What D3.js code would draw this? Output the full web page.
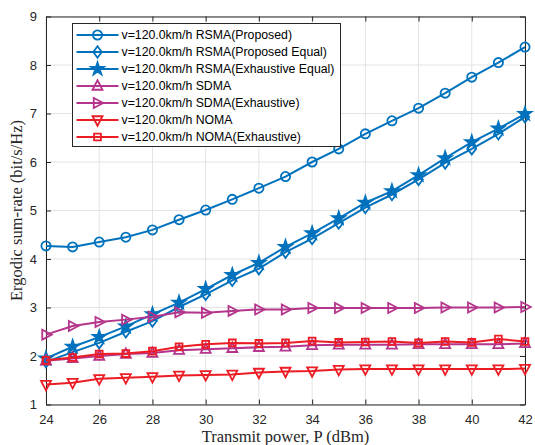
<!DOCTYPE html>
<html>
<head>
<meta charset="utf-8">
<script src="https://cdn.jsdelivr.net/npm/d3@7"></script>
<style>
  body { margin: 0; background: #fff; }
  svg { display: block; }
</style>
</head>
<body>
<svg id="chart"></svg>
<script>
// data
var power = [24,25,26,27,28,29,30,31,32,33,34,35,36,37,38,39,40,41,42];
var rsmaProposed   = [4.27,4.25,4.35,4.45,4.60,4.81,5.01,5.23,5.46,5.70,6.00,6.27,6.58,6.85,7.11,7.42,7.75,8.05,8.37];
var rsmaPropEqual  = [1.88,2.08,2.27,2.50,2.72,3.01,3.27,3.56,3.80,4.14,4.42,4.74,5.06,5.33,5.64,5.98,6.27,6.58,6.93];
var rsmaExhEqual   = [1.95,2.19,2.39,2.61,2.86,3.10,3.38,3.67,3.92,4.25,4.53,4.84,5.16,5.40,5.73,6.08,6.41,6.69,6.99];
var sdma           = [1.90,1.95,2.00,2.04,2.06,2.12,2.14,2.16,2.18,2.19,2.22,2.23,2.23,2.23,2.24,2.24,2.24,2.24,2.26];
var sdmaExh        = [2.44,2.62,2.70,2.75,2.81,2.90,2.89,2.93,2.96,2.96,2.99,2.99,2.99,2.99,2.99,3.00,3.00,3.00,3.01];
var noma           = [1.41,1.45,1.53,1.55,1.57,1.60,1.61,1.62,1.66,1.68,1.69,1.72,1.73,1.73,1.73,1.73,1.73,1.73,1.74];
var nomaExh        = [1.91,1.97,2.04,2.05,2.10,2.19,2.24,2.27,2.26,2.27,2.31,2.28,2.29,2.30,2.27,2.30,2.28,2.35,2.30];

var xTicks = [24,26,28,30,32,34,36,38,40,42];
var yTicks = [1,2,3,4,5,6,7,8,9];

var labels = [
  "v=120.0km/h RSMA(Proposed)",
  "v=120.0km/h RSMA(Proposed Equal)",
  "v=120.0km/h RSMA(Exhaustive Equal)",
  "v=120.0km/h SDMA",
  "v=120.0km/h SDMA(Exhaustive)",
  "v=120.0km/h NOMA",
  "v=120.0km/h NOMA(Exhaustive)"
];
var seriesValues = [rsmaProposed, rsmaPropEqual, rsmaExhEqual, sdma, sdmaExh, noma, nomaExh];
var markers = ["circle","diamond","star","up","right","down","square"];
var colors = ["#0072bd","#0072bd","#0072bd","#b4358b","#b4358b","#ec1c24","#ec1c24"];

var W = 535, H = 445;
var margin = {top: 16.5, right: 10, bottom: 40.5, left: 46};

var svg = d3.select("#chart").attr("width", W).attr("height", H);
var iw = W - margin.left - margin.right;
var ih = H - margin.top - margin.bottom;

var g = svg.append("g").attr("transform", `translate(${margin.left},${margin.top})`);

var x = d3.scaleLinear().domain([24,42]).range([0, iw]);
var y = d3.scaleLinear().domain([1,9]).range([ih, 0]);

// grid
g.append("g").selectAll("line").data(xTicks).enter().append("line")
  .attr("x1", d => x(d)).attr("x2", d => x(d)).attr("y1", 0).attr("y2", ih)
  .attr("stroke", "#e3e3e3").attr("stroke-width", 1);
g.append("g").selectAll("line").data(yTicks).enter().append("line")
  .attr("y1", d => y(d)).attr("y2", d => y(d)).attr("x1", 0).attr("x2", iw)
  .attr("stroke", "#e3e3e3").attr("stroke-width", 1);

// axes
var tickFont = "'Liberation Sans', Arial, sans-serif";
var xAxis = g.append("g").attr("transform", `translate(0,${ih})`)
  .call(d3.axisBottom(x).tickValues(xTicks).tickSizeInner(-5).tickSizeOuter(0).tickPadding(10));
var yAxis = g.append("g")
  .call(d3.axisLeft(y).tickValues(yTicks).tickSizeInner(-5).tickSizeOuter(0).tickPadding(9));
var xTop = g.append("g")
  .call(d3.axisTop(x).tickValues(xTicks).tickSizeInner(-5).tickSizeOuter(0).tickFormat(""));
var yRight = g.append("g").attr("transform", `translate(${iw},0)`)
  .call(d3.axisRight(y).tickValues(yTicks).tickSizeInner(-5).tickSizeOuter(0).tickFormat(""));

[xAxis, yAxis, xTop, yRight].forEach(function(a){
  a.select(".domain").attr("stroke", "#262626").attr("stroke-width", 1);
  a.selectAll(".tick line").attr("stroke", "#262626");
  a.selectAll("text").attr("fill", "#262626").style("font-family", tickFont).style("font-size", "13px");
});

// series
var line = d3.line().x((d, i) => x(power[i])).y(d => y(d));

function markerPath(type, s) {
  if (type === "circle") return d3.symbol().type(d3.symbolCircle).size(Math.PI * s * s)();
  if (type === "square") return `M${-s},${-s}H${s}V${s}H${-s}Z`;
  if (type === "diamond") return `M0,${-s*1.35}L${s},0L0,${s*1.35}L${-s},0Z`;
  if (type === "star") return d3.symbol().type(d3.symbolStar).size(s * s * 1.3)();
  if (type === "up") return `M0,${-s*1.15}L${s},${s*0.75}L${-s},${s*0.75}Z`;
  if (type === "down") return `M0,${s*1.15}L${s},${-s*0.75}L${-s},${-s*0.75}Z`;
  if (type === "right") return `M${s*1.15},0L${-s*0.75},${s}L${-s*0.75},${-s}Z`;
}
var markerSize = {circle: 4.6, square: 3.4, diamond: 4.2, star: 6.2, up: 5, down: 5, right: 5};

var plot = g.append("g");
seriesValues.forEach(function(vals, k){
  var sg = plot.append("g");
  sg.append("path").datum(vals)
    .attr("d", line).attr("fill", "none")
    .attr("stroke", colors[k]).attr("stroke-width", 2);
  sg.selectAll("path.mk").data(vals).enter().append("path")
    .attr("class", "mk")
    .attr("transform", (d, i) => `translate(${x(power[i])},${y(d)})`)
    .attr("d", markerPath(markers[k], markerSize[markers[k]]))
    .attr("fill", markers[k] === "star" ? colors[k] : "none")
    .attr("stroke", colors[k]).attr("stroke-width", 1.8);
});

// axis labels
var serif = "'Liberation Serif', 'Times New Roman', serif";
svg.append("text")
  .attr("x", margin.left + iw / 2).attr("y", 442)
  .attr("text-anchor", "middle")
  .style("font-family", serif).style("font-size", "16.5px").attr("fill", "#262626")
  .text("Transmit power, P (dBm)");
svg.append("text")
  .attr("transform", `translate(22,${margin.top + ih / 2}) rotate(-90)`)
  .attr("text-anchor", "middle")
  .style("font-family", serif).style("font-size", "16.5px").attr("fill", "#262626")
  .text("Ergodic sum-rate (bit/s/Hz)");

// legend
var lg = svg.append("g").attr("transform", "translate(72.5,23.5)");
lg.append("rect").attr("width", 268).attr("height", 123)
  .attr("fill", "#fff").attr("stroke", "#262626").attr("stroke-width", 1);
labels.forEach(function(lab, k){
  var row = lg.append("g").attr("transform", `translate(0,${11.5 + k * 17})`);
  row.append("line").attr("x1", 4).attr("x2", 46).attr("y1", 0).attr("y2", 0)
    .attr("stroke", colors[k]).attr("stroke-width", 2);
  row.append("path").attr("transform", "translate(25,0)")
    .attr("d", markerPath(markers[k], markerSize[markers[k]]))
    .attr("fill", markers[k] === "star" ? colors[k] : "none")
    .attr("stroke", colors[k]).attr("stroke-width", 1.8);
  row.append("text").attr("x", 49).attr("y", 4.2)
    .style("font-family", tickFont).style("font-size", "12.3px").attr("fill", "#000")
    .text(lab);
});
</script>
</body>
</html>
